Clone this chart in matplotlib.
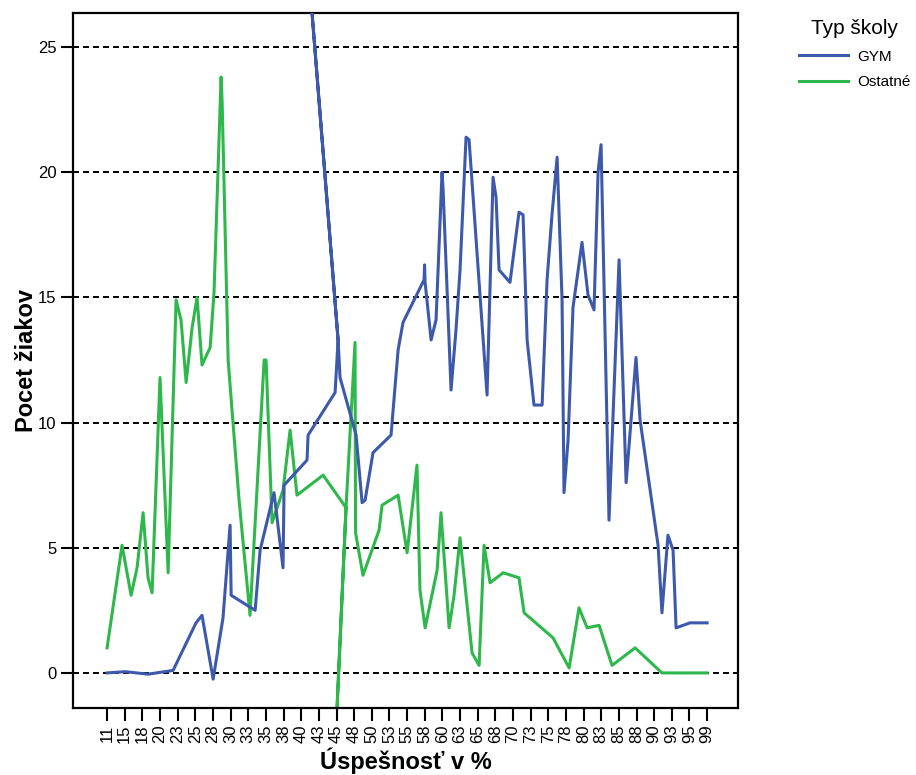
import numpy as np
import matplotlib
matplotlib.use('Agg')
import matplotlib.pyplot as plt

plt.rcParams['font.family'] = ['Liberation Sans', 'DejaVu Sans']
plt.rcParams['lines.scale_dashes'] = False

# category labels on the x axis (score in %)
tick_labels = ['11', '15', '18', '20', '23', '25', '28', '30', '33', '35', '38', '40',
               '43', '45', '48', '50', '53', '55', '58', '60', '63', '65', '68', '70',
               '73', '75', '78', '80', '83', '85', '88', '90', '93', '95', '99']

# GYM series (x in category-position units, y = number of students)
# the 60 / -60 points are the off-chart spikes seen in the original
gym_x = [0.00, 1.02, 2.32, 3.74, 5.04, 5.38, 6.01, 6.57, 6.97, 7.03, 8.39, 8.67,
         9.46, 9.97, 10.03, 11.33, 11.39, 12.92, 13.09, 7.81, 13.09, 13.20, 14.11,
         14.45, 14.62, 15.07, 16.09, 16.49, 16.77, 17.96, 17.99, 18.02, 18.36, 18.64,
         18.98, 19.04, 19.49, 19.77, 20.00, 20.34, 20.51, 21.53, 21.87, 22.04, 22.21,
         22.83, 23.34, 23.57, 23.80, 24.19, 24.65, 24.93, 25.21, 25.50, 25.78, 25.89,
         26.12, 26.40, 26.91, 27.25, 27.59, 27.82, 27.99, 28.44, 29.01, 29.41, 29.97,
         30.20, 31.22, 31.44, 31.78, 32.07, 32.24, 33.03, 34.00]
gym_y = [0.0, 0.05, -0.05, 0.1, 2.0, 2.3, -0.25, 2.2, 5.9, 3.1, 2.5, 4.9,
         7.2, 4.2, 7.5, 8.5, 9.5, 11.2, 13.3, 60.0, 13.3, 11.8, 9.5,
         6.8, 6.9, 8.8, 9.5, 12.9, 14.0, 15.7, 16.3, 15.6, 13.3, 14.1,
         20.0, 19.3, 11.3, 13.7, 16.1, 21.4, 21.3, 11.1, 19.8, 19.0, 16.1,
         15.6, 18.4, 18.3, 13.3, 10.7, 10.7, 15.7, 18.3, 20.6, 14.9, 7.2,
         9.3, 14.6, 17.2, 15.1, 14.5, 20.0, 21.1, 6.1, 16.5, 7.6, 12.6,
         10.1, 5.1, 2.4, 5.5, 4.9, 1.8, 2.0, 2.0]

# Ostatne series
ost_x = [0.00, 0.85, 1.36, 1.70, 2.04, 2.32, 2.55, 3.00, 3.46, 3.91, 4.19, 4.48,
         4.82, 5.10, 5.38, 5.84, 6.06, 6.46, 6.52, 6.86, 7.08, 7.48, 8.10, 8.90,
         9.01, 9.35, 9.97, 10.37, 10.76, 12.24, 13.54, 9.30, 13.54, 14.05, 14.08,
         14.50, 15.41, 15.58, 16.49, 17.00, 17.56, 17.73, 18.02, 18.70, 18.92, 19.38,
         19.66, 20.00, 20.68, 21.08, 21.36, 21.70, 22.44, 23.34, 23.63, 25.27, 26.18,
         26.74, 27.20, 27.88, 28.61, 29.92, 31.44, 34.00]
ost_y = [1.0, 5.1, 3.1, 4.2, 6.4, 3.8, 3.2, 11.8, 4.0, 14.9, 14.1, 11.6,
         13.8, 15.0, 12.3, 13.0, 15.2, 23.8, 22.8, 12.5, 10.5, 6.9, 2.3, 12.5,
         12.5, 6.0, 7.3, 9.7, 7.1, 7.9, 6.6, -60.0, 6.6, 13.2, 5.6,
         3.9, 5.7, 6.7, 7.1, 4.8, 8.3, 3.3, 1.8, 4.1, 6.4, 1.8,
         3.1, 5.4, 0.8, 0.3, 5.1, 3.6, 4.0, 3.8, 2.4, 1.4, 0.2,
         2.6, 1.8, 1.9, 0.3, 1.0, 0.0, 0.0]

fig = plt.figure(figsize=(9.16, 7.75), dpi=100)
ax = fig.add_axes([0.0797, 0.0865, 0.726, 0.8967])

for v in range(0, 30, 5):
    ax.axhline(v, color='black', lw=1.4, ls=(0, (4.3, 2.9)), zorder=1)

ax.plot(gym_x, gym_y, color='#3d59ab', lw=2.2, label='GYM', zorder=3)
ax.plot(ost_x, ost_y, color='#2eb84b', lw=2.2, label='Ostatné', zorder=2)

ax.set_xlim(-1.93, 35.75)
ax.set_ylim(-1.4, 26.36)
ax.set_xticks(np.arange(len(tick_labels)))
ax.set_xticklabels(tick_labels, rotation=90)
ax.set_yticks(range(0, 30, 5))
ax.tick_params(axis='both', direction='out', length=9, width=1.5, labelsize=12,
               colors='black', pad=3)

for s in ax.spines.values():
    s.set_linewidth(1.6)
    s.set_color('black')

ax.set_xlabel('Úspešnosť v %', fontsize=17, fontweight='bold', labelpad=3)
ax.set_ylabel('Pocet žiakov', fontsize=17, fontweight='bold', labelpad=0)

leg = fig.legend(loc='upper left', bbox_to_anchor=(0.857, 0.993), frameon=False,
                 title='Typ školy', title_fontsize=15, fontsize=11,
                 handlelength=3.2, handletextpad=0.6, labelspacing=0.75)

fig.savefig('out.png', dpi=100)
